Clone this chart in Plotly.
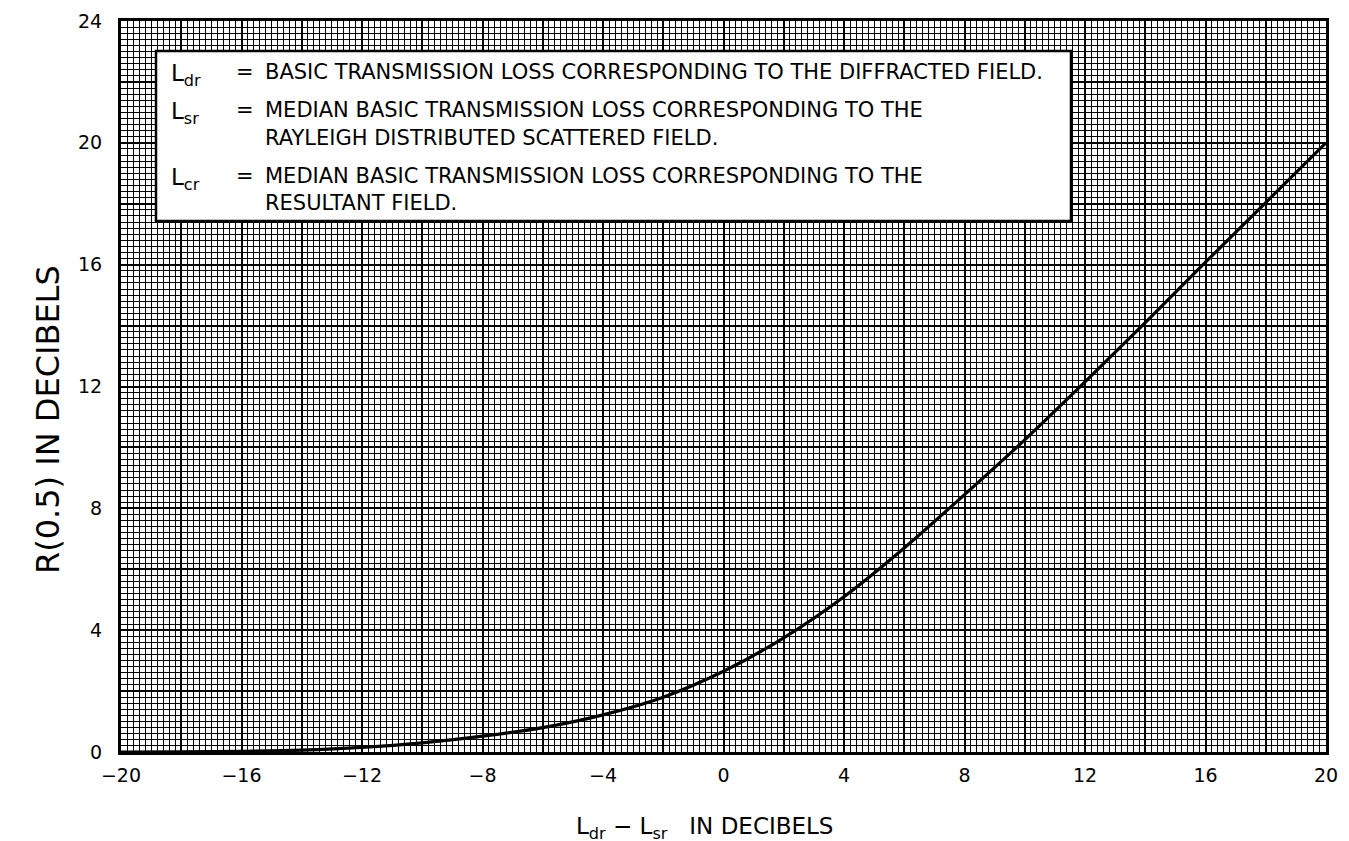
import plotly.graph_objects as go

# Curve: R(0.5) vs (Ldr - Lsr), both in dB
diff_db = [-20, -18, -16, -14, -12, -10, -8, -6, -4, -2, 0, 2, 4, 6, 8, 10, 12, 14, 16, 18, 20]
r_median_db = [0.0, 0.005, 0.02, 0.06, 0.15, 0.3, 0.52, 0.8, 1.22, 1.8, 2.65, 3.75, 5.1, 6.7, 8.45, 10.25, 12.15, 14.1, 16.08, 18.04, 20.0]

legend_lines = [
    ("L<sub>dr</sub>", "=", "BASIC TRANSMISSION LOSS CORRESPONDING TO THE DIFFRACTED FIELD."),
    ("L<sub>sr</sub>", "=", "MEDIAN BASIC TRANSMISSION LOSS CORRESPONDING TO THE"),
    ("", "", "RAYLEIGH DISTRIBUTED SCATTERED FIELD."),
    ("L<sub>cr</sub>", "=", "MEDIAN BASIC TRANSMISSION LOSS CORRESPONDING TO THE"),
    ("", "", "RESULTANT FIELD."),
]

W, H = 1349, 841
L, R, T, B = 113, 31, 13, 97
pw, ph = W - L - R, H - T - B

def px(xp):
    return (xp - L) / pw

def py(yp):
    return (H - B - yp) / ph

FONT = "DejaVu Sans"

fig = go.Figure()
fig.add_trace(go.Scatter(x=diff_db, y=r_median_db, mode="lines",
                         line=dict(color="black", width=3.2, shape="spline", smoothing=0.8),
                         showlegend=False, hoverinfo="skip"))

axis_common = dict(
    showgrid=True, gridcolor="black", gridwidth=2.4,
    zeroline=False, showline=True, linecolor="black", linewidth=3, mirror=True,
    ticks="", tickfont=dict(family=FONT, size=19, color="black"),
    minor=dict(dtick=0.2, showgrid=True, gridcolor="black", gridwidth=1.4),
)

fig.update_xaxes(range=[-20, 20], tick0=-20, dtick=2, ticklabelstep=2,
                 ticklabelstandoff=4, **axis_common)
fig.update_yaxes(range=[0, 24], tick0=0, dtick=2, ticklabelstep=2,
                 ticklabelstandoff=12, **axis_common)

# legend box
fig.add_shape(type="rect", xref="paper", yref="paper",
              x0=px(148), x1=px(1063), y0=py(213), y1=py(43),
              fillcolor="white", line=dict(color="black", width=2.5), layer="above")

line_y = [64, 102, 130, 168, 195]
for (sym, eq, txt), yc in zip(legend_lines, line_y):
    if sym:
        fig.add_annotation(xref="paper", yref="paper", x=px(161), y=py(yc), yanchor="middle",
                           xanchor="left", text=sym, showarrow=False,
                           font=dict(family=FONT, size=23, color="black"), yshift=-3)
    if eq:
        fig.add_annotation(xref="paper", yref="paper", x=px(226), y=py(yc), yanchor="middle",
                           xanchor="left", text=eq, showarrow=False,
                           font=dict(family=FONT, size=21, color="black"))
    fig.add_annotation(xref="paper", yref="paper", x=px(255), y=py(yc), yanchor="middle",
                       xanchor="left", text=txt, showarrow=False,
                       font=dict(family=FONT, size=21, color="black"))

# axis titles
fig.add_annotation(xref="paper", yref="paper", x=px(40), y=py(412), textangle=-90,
                   text="R(0.5) IN DECIBELS", showarrow=False, xanchor="center", yanchor="middle",
                   font=dict(family=FONT, size=32, color="black"))
fig.add_annotation(xref="paper", yref="paper", x=px(696), y=py(820),
                   text="L<sub>dr</sub> − L<sub>sr</sub>   IN DECIBELS", showarrow=False,
                   xanchor="center", yanchor="middle",
                   font=dict(family=FONT, size=23, color="black"))

fig.update_layout(width=W, height=H, margin=dict(l=L, r=R, t=T, b=B, autoexpand=False),
                  paper_bgcolor="white", plot_bgcolor="white")

fig.write_html("out.html")
